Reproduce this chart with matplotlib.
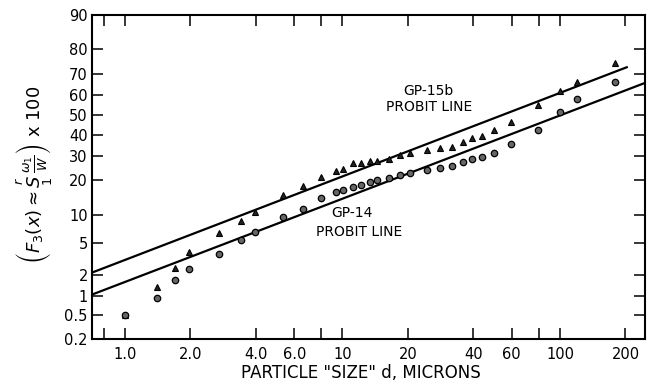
import numpy as np
import matplotlib
matplotlib.use("Agg")
import matplotlib.pyplot as plt
from matplotlib.ticker import FixedLocator, FixedFormatter, NullLocator
from statistics import NormalDist

# ---- data ----
size_um = [1.0, 1.40, 1.70, 1.97, 2.70, 3.42, 3.96, 5.33, 6.58, 7.96,
           9.34, 10.05, 11.2, 12.2, 13.4, 14.4, 16.4, 18.4, 20.4, 24.5,
           28.1, 31.9, 35.8, 39.4, 43.8, 49.7, 59.5, 79.2, 100.0, 119.7, 179.0]
gp15b_pct = [0.50, 1.37, 2.49, 3.95, 6.5, 8.7, 10.7, 15.2, 18.1, 21.3,
             23.6, 24.4, 26.9, 26.9, 27.8, 27.8, 28.6, 30.4, 31.3, 32.7,
             33.6, 34.1, 36.5, 38.4, 39.4, 42.4, 46.4, 55.1, 62.1, 66.4, 74.8]
gp14_pct = [0.50, 0.92, 1.72, 2.42, 3.74, 5.45, 6.68, 9.56, 11.4, 14.4,
            16.2, 16.8, 17.8, 18.5, 19.5, 20.2, 21.0, 22.1, 22.9, 24.0,
            24.9, 25.7, 27.3, 28.6, 29.5, 31.3, 35.5, 42.4, 51.5, 58.1, 66.4]

line15b_x = [0.705, 205.0]
line15b_y = [2.14, 73.1]
line14_x = [0.705, 246.0]
line14_y = [1.05, 65.9]

xticks = [0.8, 1, 2, 4, 6, 8, 10, 20, 40, 60, 80, 100, 200]
xticklabels = ["", "1.0", "2.0", "4.0", "6.0", "", "10", "20", "40", "60", "", "100", "200"]
yticks = [0.2, 0.5, 1, 2, 5, 10, 20, 30, 40, 50, 60, 70, 80, 90]
yticklabels = ["0.2", "0.5", "1", "2", "5", "10", "20", "30", "40", "50", "60", "70", "80", "90"]

# ---- probit scale ----
_nd = NormalDist()
_ppf = np.vectorize(lambda p: _nd.inv_cdf(p) if 0 < p < 1 else np.nan, otypes=[float])
_cdf = np.vectorize(lambda z: _nd.cdf(z) if np.isfinite(z) else np.nan, otypes=[float])

def fwd(p):
    p = np.asarray(p, dtype=float) / 100.0
    p = np.clip(np.nan_to_num(p, nan=0.5), 1e-9, 1 - 1e-9)
    return _ppf(p)

def inv(z):
    z = np.asarray(z, dtype=float)
    return _cdf(z) * 100.0

fig = plt.figure(figsize=(6.47, 3.87), dpi=100)
ax = fig.add_axes([92 / 647, 48 / 387, 553 / 647, 324 / 387])
ax.set_xscale("log")
ax.set_yscale("function", functions=(fwd, inv))

ax.plot(line15b_x, line15b_y, color="black", lw=1.6, solid_capstyle="butt")
ax.plot(line14_x, line14_y, color="black", lw=1.6, solid_capstyle="butt")

ax.plot(size_um, gp15b_pct, linestyle="none", marker="^", ms=5,
        mfc="#222222", mec="black", mew=0.8)
ax.plot(size_um, gp14_pct, linestyle="none", marker="o", ms=4.6,
        mfc="#666666", mec="black", mew=0.9)

ax.set_xlim(0.705, 246)
ax.set_ylim(0.2, 90)

ax.xaxis.set_major_locator(FixedLocator(xticks))
ax.xaxis.set_major_formatter(FixedFormatter(xticklabels))
ax.xaxis.set_minor_locator(NullLocator())
ax.yaxis.set_major_locator(FixedLocator(yticks))
ax.yaxis.set_major_formatter(FixedFormatter(yticklabels))
ax.yaxis.set_minor_locator(NullLocator())

ax.tick_params(axis="both", direction="in", top=True, right=True,
               length=8, width=1.1, labelsize=10.5, color="black")
ax.tick_params(axis="x", pad=6)
ax.tick_params(axis="y", pad=3)
for s in ax.spines.values():
    s.set_linewidth(1.5)
    s.set_color("black")

ax.text(24.7, 62.1, "GP-15b", ha="center", va="center", fontsize=10)
ax.text(25.0, 54.1, "PROBIT LINE", ha="center", va="center", fontsize=10)
ax.text(11.06, 10.45, "GP-14", ha="center", va="center", fontsize=10)
ax.text(11.9, 6.68, "PROBIT LINE", ha="center", va="center", fontsize=10)

fig.text(361 / 647, 1 - 373 / 387, 'PARTICLE "SIZE" d, MICRONS',
         ha="center", va="center", fontsize=12)
fig.text(35 / 647, 1 - 175 / 387,
         r'$\left(F_3(x) \approx \overset{r}{\underset{1}{S}}\,\frac{\omega_1}{W}\right)$ x 100',
         ha="center", va="center", rotation=90, fontsize=13)

fig.savefig("out.png", dpi=100)
